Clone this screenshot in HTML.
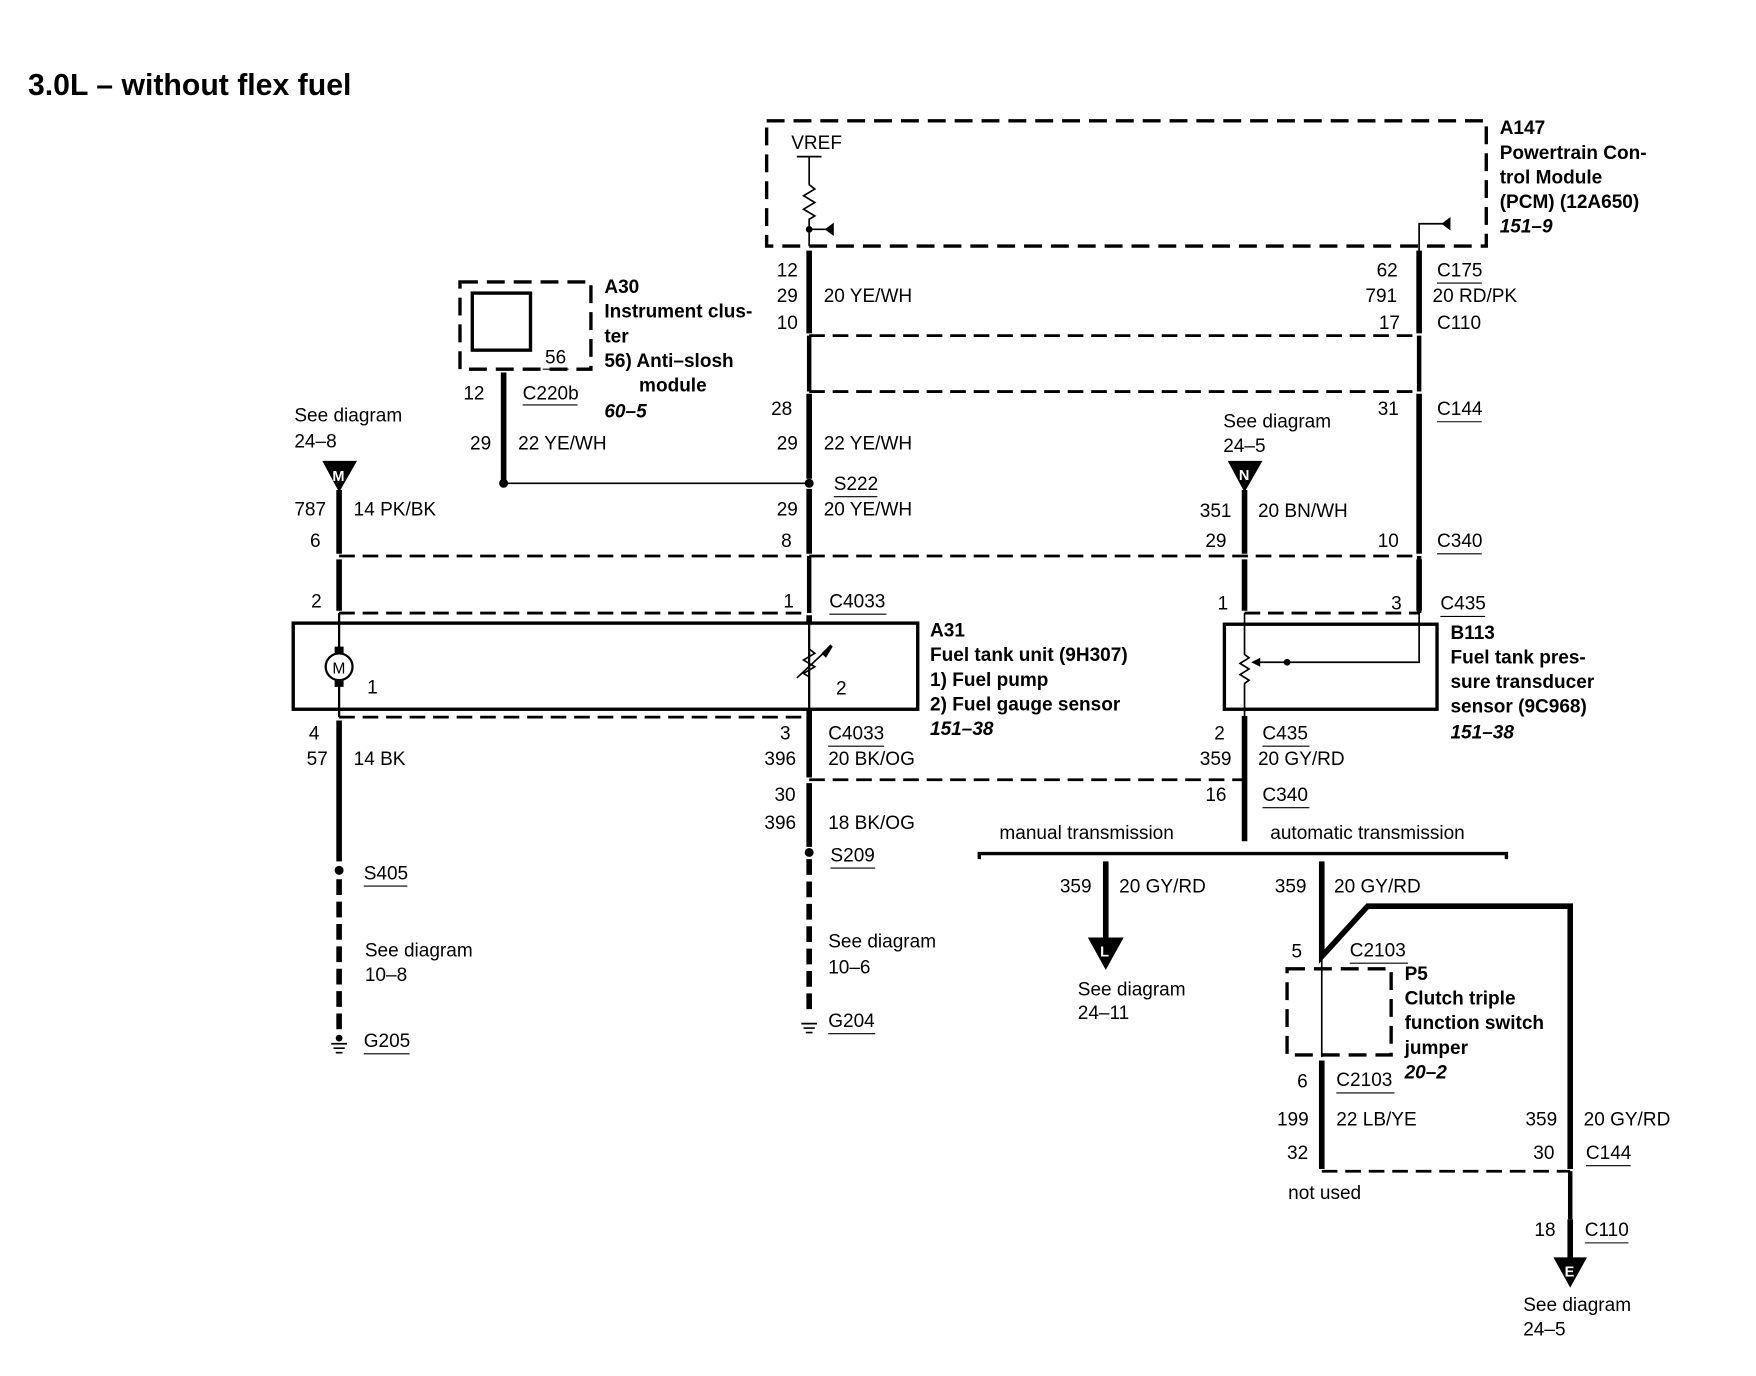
<!DOCTYPE html>
<html><head><meta charset="utf-8"><style>
html,body{margin:0;padding:0;background:#fff;}
svg{display:block;}
text{font-family:"Liberation Sans",Arial,sans-serif;font-size:17px;fill:#000;}
.b{font-weight:bold;}
.i{font-weight:bold;font-style:italic;}
.w{stroke:#000;stroke-width:5;fill:none;}
.t{stroke:#000;stroke-width:1.5;fill:none;}
.d{stroke:#000;stroke-width:2.5;fill:none;stroke-dasharray:14 7;}
.dk{stroke:#000;stroke-width:3;fill:none;stroke-dasharray:16 8;}
.u{stroke:#000;stroke-width:1;}
</style></head><body>
<svg width="1756" height="1376" viewBox="0 0 1569 1230" preserveAspectRatio="none" xmlns="http://www.w3.org/2000/svg">
<text x="25" y="85" class="b" style="font-size:27px">3.0L – without flex fuel</text>

<!-- PCM -->
<path class="dk" d="M685 108 H1328 V220 H685 Z"/>
<text x="1340" y="120" class="b">A147</text>
<text x="1340" y="142" class="b">Powertrain Con-</text>
<text x="1340" y="164" class="b">trol Module</text>
<text x="1340" y="186" class="b">(PCM) (12A650)</text>
<text x="1340" y="208" class="i">151–9</text>
<text x="707" y="133">VREF</text>
<path class="t" d="M712 140 H734 M723 140 V165 l5 4 -10 6 10 6 -10 6 10 6 -5 3 V220 M723 205 H745"/>
<circle cx="723" cy="205" r="3"/>
<path d="M745 199 L745 211 L737 205 Z"/>
<path class="t" d="M1268 225 V200 H1290"/>
<path d="M1296 194 L1296 206 L1288 200 Z"/>

<!-- main wire 723 -->
<path class="w" d="M723 224 V298 M723 352 V428 M723 437 V495 M723 550 V557 M723 634 V695 M723 700 V757"/>
<path class="t" d="M723 300 V350 M723 497 V548" style="stroke-width:4"/>
<path class="t" d="M723 557 V634" style="stroke-width:2"/>
<path class="w" style="stroke-dasharray:14 6" d="M723 768 V905"/>
<circle cx="723" cy="432" r="4"/>
<circle cx="723" cy="762" r="4"/>
<path class="t" d="M716 915 H730 M718 919 H728 M720 923 H726"/>
<text x="694" y="247">12</text><text x="694" y="270">29</text><text x="694" y="294">10</text>
<text x="736" y="270">20 YE/WH</text>
<text x="689" y="371">28</text><text x="694" y="402">29</text><text x="736" y="402">22 YE/WH</text>
<text x="745" y="438">S222</text><line class="u" x1="745" y1="444" x2="784" y2="444"/>
<text x="694" y="461">29</text><text x="736" y="461">20 YE/WH</text>
<text x="698" y="489">8</text>
<text x="700" y="543">1</text><text x="741" y="543">C4033</text><line class="u" x1="741" y1="549" x2="792" y2="549"/>
<text x="697" y="661">3</text><text x="740" y="661">C4033</text><line class="u" x1="740" y1="667" x2="790" y2="667"/>
<text x="683" y="684">396</text><text x="740" y="684">20 BK/OG</text>
<text x="692" y="716">30</text>
<text x="683" y="741">396</text><text x="740" y="741">18 BK/OG</text>
<text x="742" y="770">S209</text><line class="u" x1="742" y1="776" x2="782" y2="776"/>
<text x="740" y="847">See diagram</text><text x="740" y="870">10–6</text>
<text x="740" y="918">G204</text><line class="u" x1="740" y1="924" x2="782" y2="924"/>

<!-- dashed connectors -->
<path class="d" d="M723 300 H1268"/>
<path class="d" d="M723 350 H1268"/>
<path class="d" d="M303 497 H1268"/>
<path class="d" d="M303 548 H723 M1112 548 H1268"/>
<path class="d" d="M303 641 H723"/>
<path class="d" d="M723 697 H1112"/>

<!-- A30 -->
<path class="dk" d="M411 252 H528 V330 H411 Z"/>
<rect x="422" y="262" width="52" height="51" fill="none" stroke="#000" stroke-width="3"/>
<text x="487" y="325">56</text><line class="u" x1="485" y1="330" x2="508" y2="330"/>
<path class="w" d="M450 333 V430"/>
<circle cx="450" cy="432" r="4"/>
<path class="t" d="M450 432 H723"/>
<text x="540" y="262" class="b">A30</text>
<text x="540" y="284" class="b">Instrument clus-</text>
<text x="540" y="306" class="b">ter</text>
<text x="540" y="328" class="b">56)  Anti–slosh</text>
<text x="571" y="350" class="b">module</text>
<text x="540" y="373" class="i">60–5</text>
<text x="414" y="357">12</text><text x="467" y="357">C220b</text><line class="u" x1="467" y1="362" x2="516" y2="362"/>
<text x="420" y="402">29</text><text x="463" y="402">22 YE/WH</text>

<!-- left wire 303 -->
<text x="263" y="377">See diagram</text><text x="263" y="400">24–8</text>
<path d="M288 412 H319 L303 440 Z"/><text x="297" y="430" style="fill:#fff;font-size:13px" class="b">M</text>
<path class="w" d="M303 438 V495 M303 500 V546 M303 644 V770"/>
<path class="t" d="M303 548 V584 M303 608 V641" style="stroke-width:2"/>
<path class="w" style="stroke-dasharray:14 6" d="M303 786 V922"/>
<circle cx="303" cy="778" r="4"/>
<path class="t" d="M296 933 H310 M298 937 H308 M300 941 H306"/><circle cx="303" cy="928" r="3"/>
<text x="263" y="461">787</text><text x="316" y="461">14 PK/BK</text>
<text x="277" y="489">6</text>
<text x="278" y="543">2</text>
<text x="276" y="661">4</text>
<text x="274" y="684">57</text><text x="316" y="684">14 BK</text>
<text x="325" y="786">S405</text><line class="u" x1="325" y1="792" x2="364" y2="792"/>
<text x="326" y="855">See diagram</text><text x="326" y="877">10–8</text>
<text x="325" y="936">G205</text><line class="u" x1="325" y1="942" x2="366" y2="942"/>

<!-- A31 box -->
<rect x="262" y="557" width="558" height="77" fill="none" stroke="#000" stroke-width="3"/>
<circle cx="303" cy="596" r="12" fill="#fff" stroke="#000" stroke-width="2"/>
<rect x="299" y="578" width="8" height="6"/><rect x="299" y="608" width="8" height="6"/>
<text x="297" y="602" style="font-size:14px">M</text>
<text x="328" y="620">1</text>
<path class="t" d="M723 557 V580 l5 4 -10 6 10 6 -10 6 5 3 V634 M712 606 L742 578"/>
<path d="M742 576 L744 578 L738 588 L734 584 Z"/>
<text x="747" y="621">2</text>
<text x="831" y="569" class="b">A31</text>
<text x="831" y="591" class="b">Fuel tank unit (9H307)</text>
<text x="831" y="613" class="b">1)    Fuel pump</text>
<text x="831" y="635" class="b">2)    Fuel gauge sensor</text>
<text x="831" y="657" class="i">151–38</text>

<!-- 1112 / N -->
<text x="1093" y="382">See diagram</text><text x="1093" y="404">24–5</text>
<path d="M1097 412 H1128 L1112 440 Z"/><text x="1107" y="429" style="fill:#fff;font-size:13px" class="b">N</text>
<path class="w" d="M1112 438 V495 M1112 500 V546 M1112 640 V752"/>
<text x="1072" y="462">351</text><text x="1124" y="462">20 BN/WH</text>
<text x="1077" y="489">29</text>
<text x="1088" y="545">1</text>
<text x="1085" y="661">2</text><text x="1128" y="661">C435</text><line class="u" x1="1128" y1="667" x2="1170" y2="667"/>
<text x="1072" y="684">359</text><text x="1124" y="684">20 GY/RD</text>
<text x="1077" y="716">16</text><text x="1128" y="716">C340</text><line class="u" x1="1128" y1="722" x2="1170" y2="722"/>

<!-- right wire 1268 -->
<path class="w" d="M1268 224 V298 M1268 352 V495 M1268 500 V546"/>
<path class="t" d="M1268 300 V350 M1268 497 V548" style="stroke-width:4"/>
<text x="1230" y="247">62</text><text x="1284" y="247">C175</text><line class="u" x1="1284" y1="253" x2="1324" y2="253"/>
<text x="1220" y="270">791</text><text x="1280" y="270">20 RD/PK</text>
<text x="1232" y="294">17</text><text x="1284" y="294">C110</text>
<text x="1231" y="371">31</text><text x="1284" y="371">C144</text><line class="u" x1="1284" y1="377" x2="1324" y2="377"/>
<text x="1231" y="489">10</text><text x="1284" y="489">C340</text><line class="u" x1="1284" y1="495" x2="1324" y2="495"/>
<text x="1243" y="545">3</text><text x="1287" y="545">C435</text><line class="u" x1="1287" y1="551" x2="1327" y2="551"/>

<!-- B113 -->
<rect x="1094" y="558" width="190" height="76" fill="none" stroke="#000" stroke-width="3"/>
<path class="t" d="M1112 548 V585 l4 3 -8 5 8 5 -8 5 8 5 -4 3 V640 M1268 548 V592 H1120"/>
<circle cx="1150" cy="592" r="3"/>
<path d="M1118 592 L1126 588 L1126 596 Z"/>
<text x="1296" y="571" class="b">B113</text>
<text x="1296" y="593" class="b">Fuel tank pres-</text>
<text x="1296" y="615" class="b">sure transducer</text>
<text x="1296" y="637" class="b">sensor (9C968)</text>
<text x="1296" y="660" class="i">151–38</text>

<!-- transmission split -->
<path d="M875 768 V763 H1346 V768" fill="none" stroke="#000" stroke-width="3"/>
<text x="893" y="750">manual transmission</text>
<text x="1135" y="750">automatic transmission</text>
<path class="w" d="M988 770 V842"/>
<path d="M972 838 H1004 L988 867 Z"/><text x="983" y="855" style="fill:#fff;font-size:13px" class="b">L</text>
<text x="947" y="798">359</text><text x="1000" y="798">20 GY/RD</text>
<text x="963" y="890">See diagram</text><text x="963" y="911">24–11</text>

<path class="w" d="M1181 770 V855 L1222 810 H1403 V1045"/>
<path class="t" d="M1181 855 V945"/>
<path class="dk" d="M1150 866 H1243 V943 H1150 Z"/>
<path class="w" d="M1181 948 V1045"/>
<path class="d" d="M1181 1047 H1403"/>
<path class="t" d="M1403 1047 V1090" style="stroke-width:4"/>
<path class="w" d="M1403 1090 V1127"/>
<path d="M1388 1124 H1418 L1403 1151 Z"/><text x="1398" y="1141" style="fill:#fff;font-size:13px" class="b">E</text>
<text x="1139" y="798">359</text><text x="1192" y="798">20 GY/RD</text>
<text x="1154" y="856">5</text><text x="1206" y="855">C2103</text><line class="u" x1="1206" y1="861" x2="1258" y2="861"/>
<text x="1255" y="876" class="b">P5</text>
<text x="1255" y="898" class="b">Clutch triple</text>
<text x="1255" y="920" class="b">function switch</text>
<text x="1255" y="942" class="b">jumper</text>
<text x="1255" y="964" class="i">20–2</text>
<text x="1159" y="972">6</text><text x="1194" y="971">C2103</text><line class="u" x1="1194" y1="977" x2="1246" y2="977"/>
<text x="1141" y="1006">199</text><text x="1194" y="1006">22 LB/YE</text>
<text x="1150" y="1036">32</text>
<text x="1151" y="1072">not used</text>
<text x="1363" y="1006">359</text><text x="1415" y="1006">20 GY/RD</text>
<text x="1370" y="1036">30</text><text x="1417" y="1036">C144</text><line class="u" x1="1417" y1="1042" x2="1457" y2="1042"/>
<text x="1371" y="1105">18</text><text x="1416" y="1105">C110</text><line class="u" x1="1416" y1="1111" x2="1455" y2="1111"/>
<text x="1361" y="1172">See diagram</text><text x="1361" y="1194">24–5</text>
</svg>
</body></html>
